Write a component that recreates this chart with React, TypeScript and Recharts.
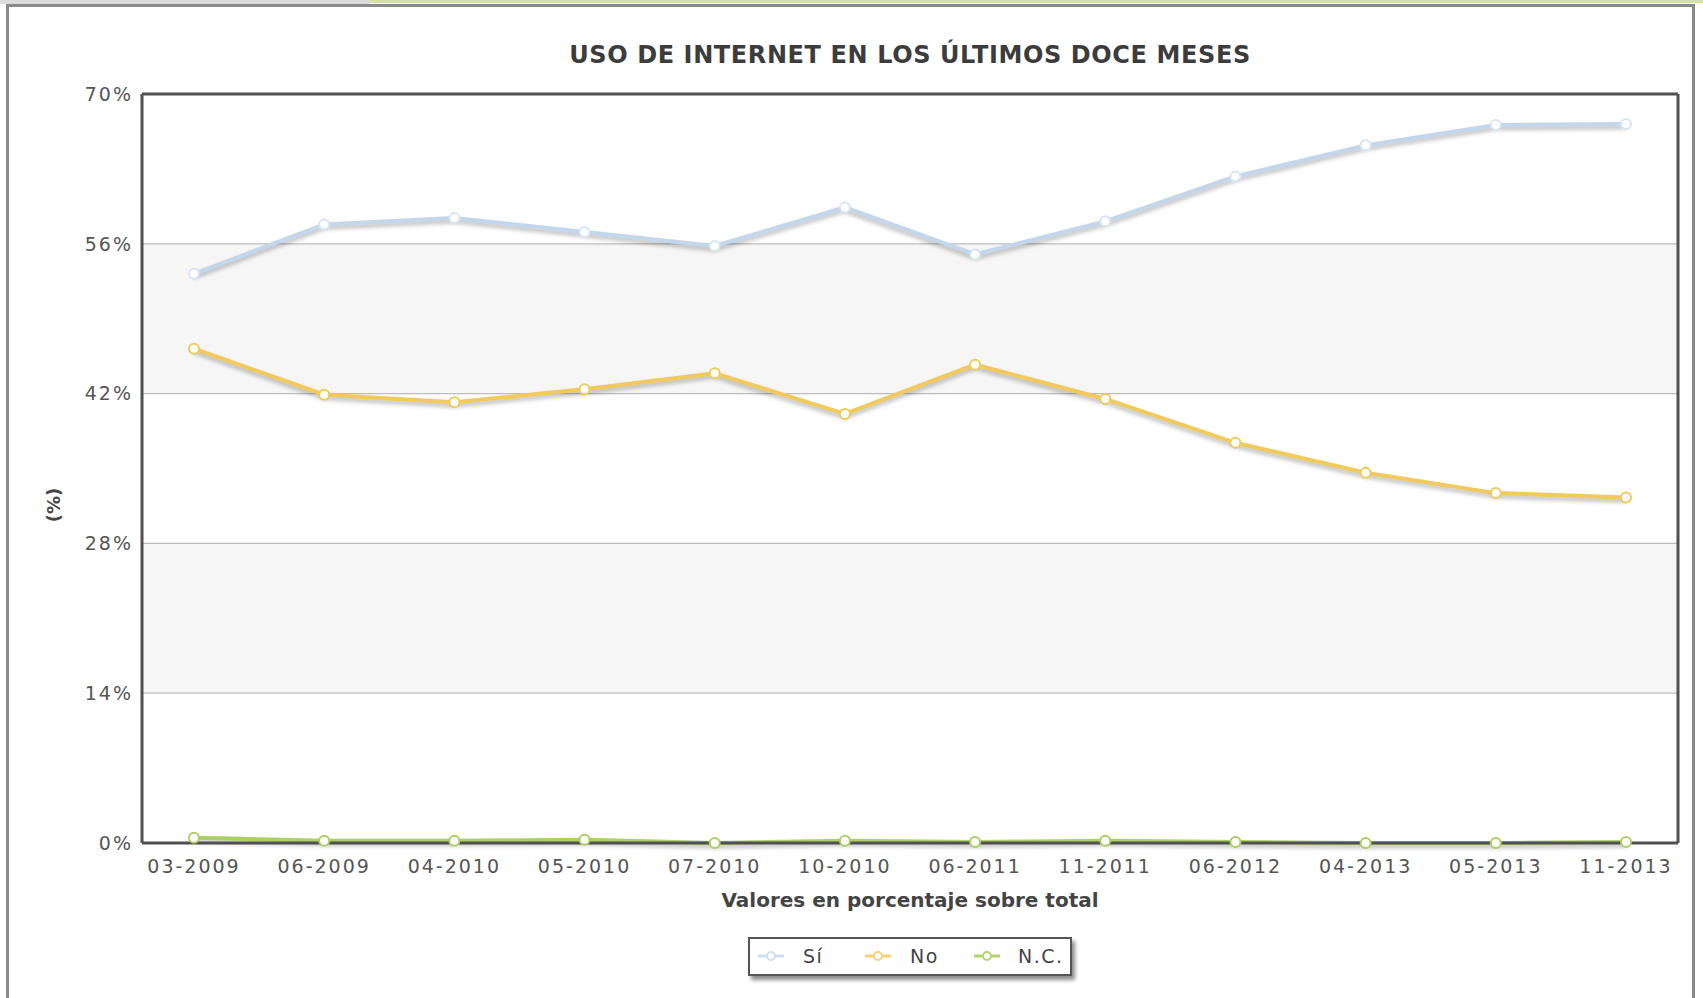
import React from "react";
import {
  LineChart,
  Line,
  XAxis,
  YAxis,
  CartesianGrid,
  ReferenceLine,
} from "recharts";

const months = [
  "03-2009",
  "06-2009",
  "04-2010",
  "05-2010",
  "07-2010",
  "10-2010",
  "06-2011",
  "11-2011",
  "06-2012",
  "04-2013",
  "05-2013",
  "11-2013",
];
const siValues = [53.2, 57.8, 58.4, 57.1, 55.8, 59.4, 55.0, 58.1, 62.3, 65.2, 67.1, 67.2];
const noValues = [46.2, 41.9, 41.2, 42.4, 43.9, 40.1, 44.7, 41.5, 37.4, 34.6, 32.7, 32.3];
const ncValues = [0.5, 0.2, 0.2, 0.3, 0.0, 0.2, 0.1, 0.2, 0.1, 0.0, 0.0, 0.1];
const yTicks = [0, 14, 28, 42, 56, 70];

const series = [
  { key: "si", name: "Sí", color: "#c3d7ec", dotStroke: "#d6e5f4", legend: "#cde0f2" },
  { key: "no", name: "No", color: "#f2ca5c", dotStroke: "#f2ca5c", legend: "#f5d27a" },
  { key: "nc", name: "N.C.", color: "#abd064", dotStroke: "#abd064", legend: "#b2d46e" },
];

const data = months.map((m, i) => ({
  month: m,
  si: siValues[i],
  no: noValues[i],
  nc: ncValues[i],
}));

const css = `
.recharts-cartesian-axis-tick-value { letter-spacing: 2px; font-family: 'DejaVu Sans', Verdana, sans-serif; }
.shadowed .recharts-line-curve { filter: drop-shadow(0px 3px 2px rgba(0,0,0,0.28)); }
`;

function LegendIcon({ color }: { color: string }) {
  return (
    <svg width={26} height={12} style={{ display: "block" }}>
      <line x1={0} y1={6} x2={26} y2={6} stroke={color} strokeWidth={3} />
      <circle cx={13} cy={6} r={4} fill="#fff" stroke={color} strokeWidth={2} />
    </svg>
  );
}

const legendPos = [
  { icon: 8, text: 53 },
  { icon: 115, text: 160 },
  { icon: 224, text: 268 },
];

export default function App() {
  return (
    <div
      style={{
        position: "absolute",
        left: 0,
        top: 0,
        width: 1703,
        height: 998,
        background: "#fff",
        overflow: "hidden",
        fontFamily: "'DejaVu Sans', Verdana, sans-serif",
      }}
    >
      <style>{css}</style>
      <div style={{ position: "absolute", left: 0, top: 0, width: 370, height: 4, background: "#dcdcdc" }} />
      <div style={{ position: "absolute", left: 370, top: 0, width: 1333, height: 3, background: "#d5e2a6" }} />
      <div
        style={{
          position: "absolute",
          left: 6,
          top: 4,
          width: 1689,
          height: 1100,
          border: "3px solid #8a8a8a",
          boxSizing: "border-box",
        }}
      />
      <div
        style={{
          position: "absolute",
          left: 142,
          top: 43,
          width: 1536,
          textAlign: "center",
          fontSize: 24,
          lineHeight: "24px",
          fontWeight: "bold",
          color: "#3c3c3c",
          letterSpacing: 0.6,
        }}
      >
        USO DE INTERNET EN LOS ÚLTIMOS DOCE MESES
      </div>
      <div style={{ position: "absolute", left: 0, top: 0 }}>
        <LineChart
          width={1703}
          height={998}
          data={data}
          margin={{ top: 94, right: 24, bottom: 115, left: 0 }}
        >
          <CartesianGrid
            vertical={false}
            stroke="#bdbdbd"
            strokeWidth={1.2}
            horizontalFill={["#ffffff", "#f6f6f6"]}
            fillOpacity={1}
          />
          <XAxis
            dataKey="month"
            scale="point"
            padding={{ left: 52, right: 52 }}
            interval={0}
            height={40}
            tickLine={false}
            tickSize={0}
            tickMargin={17}
            axisLine={{ stroke: "#505050", strokeWidth: 3 }}
            tick={{ fontSize: 19, fill: "#555" }}
          />
          <YAxis
            domain={[0, 70]}
            ticks={yTicks}
            width={142}
            tickLine={false}
            tickSize={0}
            tickMargin={9}
            tickFormatter={(v: number) => `${v}%`}
            axisLine={{ stroke: "#505050", strokeWidth: 3 }}
            tick={{ fontSize: 19, fill: "#555" }}
          />
          <YAxis
            yAxisId="right"
            orientation="right"
            width={1}
            domain={[0, 70]}
            tick={false}
            tickLine={false}
            axisLine={{ stroke: "#505050", strokeWidth: 3 }}
          />
          <ReferenceLine y={70} stroke="#505050" strokeWidth={3} />
          {[...series].reverse().map((s) => (
            <Line
              key={s.key}
              className="shadowed"
              type="linear"
              dataKey={s.key}
              name={s.name}
              stroke={s.color}
              strokeWidth={4}
              dot={{ r: 5, fill: "#fff", stroke: s.dotStroke, strokeWidth: 2 }}
              activeDot={false}
              isAnimationActive={false}
            />
          ))}
        </LineChart>
      </div>
      <div
        style={{
          position: "absolute",
          left: 24,
          top: 493,
          width: 60,
          height: 24,
          lineHeight: "24px",
          textAlign: "center",
          fontSize: 18,
          fontWeight: "bold",
          color: "#444",
          transform: "rotate(-90deg)",
        }}
      >
        (%)
      </div>
      <div
        style={{
          position: "absolute",
          left: 142,
          top: 890,
          width: 1536,
          textAlign: "center",
          fontSize: 20,
          lineHeight: "20px",
          fontWeight: "bold",
          color: "#444",
        }}
      >
        Valores en porcentaje sobre total
      </div>
      <div
        style={{
          position: "absolute",
          left: 748,
          top: 937,
          width: 324,
          height: 39,
          border: "2px solid #555",
          boxSizing: "border-box",
          background: "#fff",
          boxShadow: "3px 4px 4px rgba(0,0,0,0.45)",
        }}
      >
        {series.map((s, i) => (
          <React.Fragment key={s.key}>
            <div style={{ position: "absolute", left: legendPos[i].icon, top: 11 }}>
              <LegendIcon color={s.legend} />
            </div>
            <div
              style={{
                position: "absolute",
                left: legendPos[i].text,
                top: 5,
                fontSize: 19,
                lineHeight: "24px",
                letterSpacing: 1.5,
                color: "#444",
              }}
            >
              {s.name}
            </div>
          </React.Fragment>
        ))}
      </div>
    </div>
  );
}
